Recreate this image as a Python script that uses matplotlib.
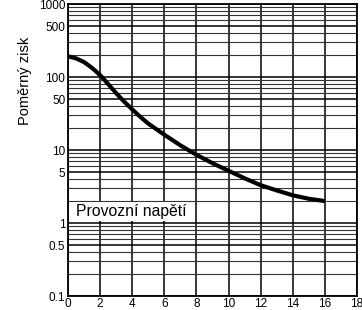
import matplotlib
matplotlib.use("Agg")
import matplotlib.pyplot as plt
import numpy as np
from matplotlib.ticker import FixedLocator, LogLocator, NullFormatter

plt.rcParams["font.family"] = ["Liberation Sans", "DejaVu Sans"]

voltage = [0, 0.5, 1, 1.5, 2, 2.5, 3, 3.5, 4, 4.5, 5, 6, 7, 8, 9, 10, 11, 12, 13, 14, 15, 16]
gain = [192, 180, 160, 133, 106, 80, 60, 46, 36, 28.5, 23, 16.2, 11.6, 8.6, 6.6, 5.2, 4.1, 3.3, 2.8, 2.4, 2.15, 2.0]

x_ticks = [0, 2, 4, 6, 8, 10, 12, 14, 16, 18]
y_ticks = [0.1, 0.5, 1, 5, 10, 50, 100, 500, 1000]
y_tick_labels = ["0.1", "0.5", "1", "5", "10", "50", "100", "500", "1000"]

fig = plt.figure(figsize=(3.62, 3.10), dpi=100)
ax = fig.add_axes([0.188, 0.045, 0.798, 0.942])
ax.set_yscale("log")
ax.set_xlim(0, 18)
ax.set_ylim(0.1, 1000)

ax.yaxis.set_minor_locator(LogLocator(base=10, subs=np.arange(2, 10)))
ax.yaxis.set_minor_formatter(NullFormatter())
ax.set_yticks(y_ticks)
ax.set_yticklabels(y_tick_labels)
ax.set_xticks(x_ticks)
ax.set_xticklabels([str(t) for t in x_ticks])

ax.grid(True, which="major", axis="both", color="black", lw=1.1)
ax.grid(True, which="minor", axis="y", color="#333333", lw=0.8)
ax.tick_params(axis="both", which="both", length=0, labelsize=8.5, pad=1.5)
ax.tick_params(axis="y", pad=2)
for s in ax.spines.values():
    s.set_linewidth(1.3)

ax.plot(voltage, gain, color="black", lw=3, solid_capstyle="butt",
        solid_joinstyle="round", zorder=5)

ax.text(0.5, 1.12, "Provozní napětí", fontsize=11.3, va="bottom", ha="left",
        bbox=dict(facecolor="white", edgecolor="none", pad=1.5), zorder=6)
ax.set_ylabel("Poměrný zisk", fontsize=10.5)
ax.yaxis.set_label_coords(-0.125, 0.736)

fig.savefig("out.png", dpi=100)
